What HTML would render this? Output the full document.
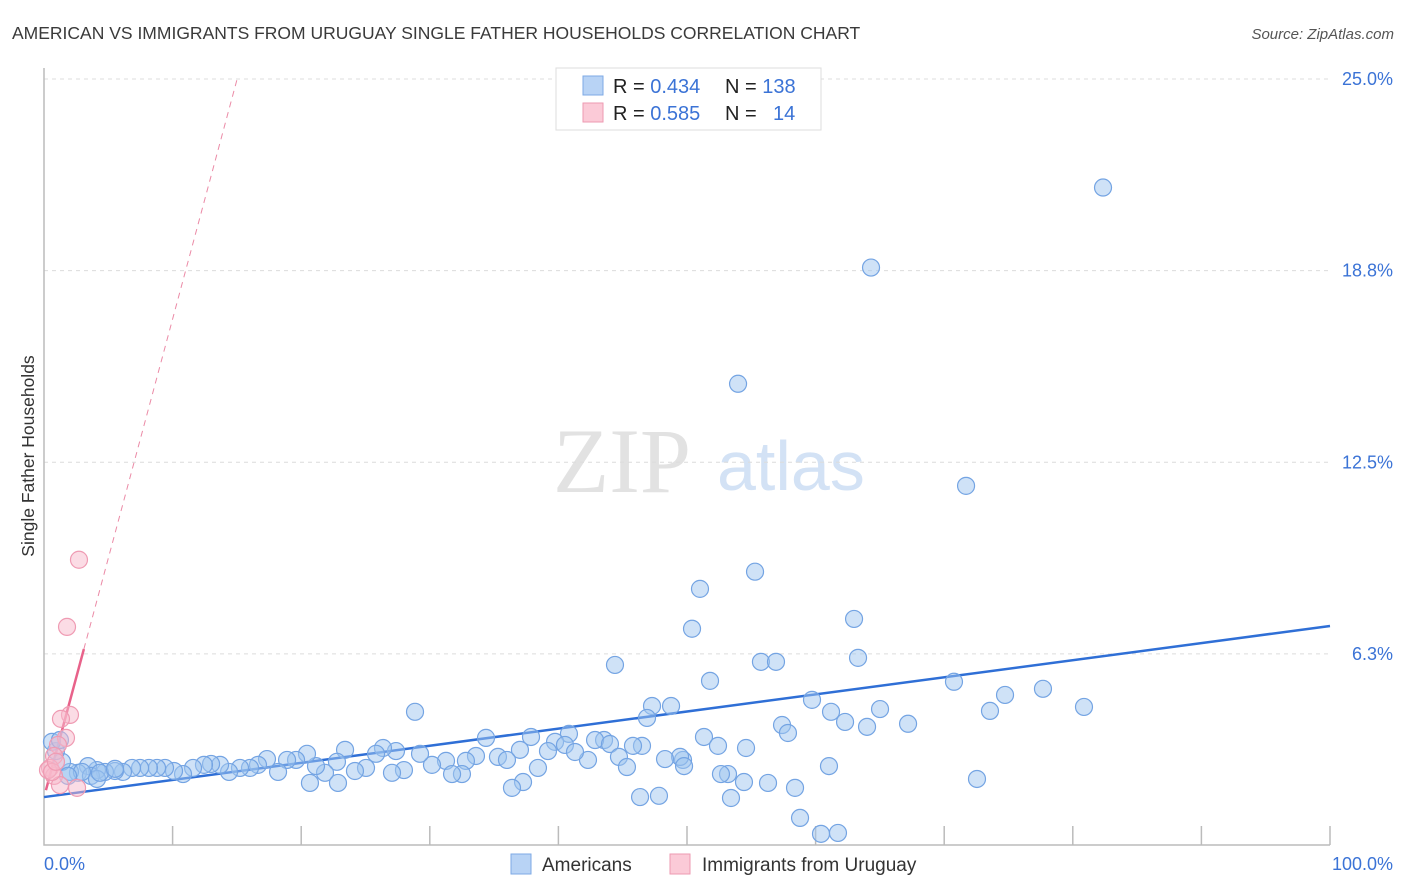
<!DOCTYPE html>
<html><head><meta charset="utf-8"><style>
body{margin:0;background:#fff;font-family:"Liberation Sans",sans-serif;}
svg{display:block}
</style></head><body>
<svg width="1406" height="892" viewBox="0 0 1406 892">
<text x="12" y="39" font-size="17.5" fill="#3a3a3a">AMERICAN VS IMMIGRANTS FROM URUGUAY SINGLE FATHER HOUSEHOLDS CORRELATION CHART</text>
<text x="1394" y="39" font-size="15" font-style="italic" fill="#555" text-anchor="end">Source: ZipAtlas.com</text>
<text transform="translate(34,456) rotate(-90)" font-size="17.5" fill="#333" text-anchor="middle">Single Father Households</text>
<g>
<text x="553" y="492" font-family="Liberation Serif,serif" font-size="92" fill="#e2e2e2">ZIP</text>
<text x="717" y="490" font-size="70" fill="#d3e2f5">atlas</text>
</g>
<g id="grid"></g>
<g id="axes"></g>
<g id="lines"></g>
<g id="pts"></g>
<g>
<rect x="556" y="68" width="265" height="62" fill="#fff" stroke="#ddd"/>
<rect x="583" y="76" width="20" height="19" fill="#b8d3f5" stroke="#7ea9e5"/>
<rect x="583" y="103" width="20" height="19" fill="#fbcad7" stroke="#ee9ab2"/>
<text x="613" y="93" font-size="20" fill="#222">R = <tspan fill="#3b73d6">0.434</tspan><tspan x="725">N = </tspan><tspan fill="#3b73d6">138</tspan></text>
<text x="613" y="120" font-size="20" fill="#222">R = <tspan fill="#3b73d6">0.585</tspan><tspan x="725">N = </tspan><tspan x="773" fill="#3b73d6">14</tspan></text>
</g>
<g>
<rect x="511" y="854" width="20" height="20" fill="#b8d3f5" stroke="#7ea9e5"/>
<text x="542" y="871" font-size="19" fill="#333">Americans</text>
<rect x="670" y="854" width="20" height="20" fill="#fbcad7" stroke="#ee9ab2"/>
<text x="702" y="871" font-size="19" fill="#333">Immigrants from Uruguay</text>
</g>
</svg>
<script>
const yTicks=[6.25,12.5,18.75,25];
const yTickLabels=["6.3%","12.5%","18.8%","25.0%"];
const xTickLabels=["0.0%","100.0%"];
const bluePx=[[1103,188],[871,268],[738,384],[966,486],[755,572],[700,589],[854,619],[692,629],[615,665],[761,662],[776,662],[858,658],[710,681],[954,682],[1043,689],[1005,695],[1084,707],[990,711],[652,706],[671,706],[415,712],[647,718],[812,700],[831,712],[845,722],[880,709],[867,727],[908,724],[782,725],[788,733],[704,737],[718,746],[746,748],[486,738],[531,737],[569,734],[604,740],[595,740],[555,742],[565,745],[610,744],[642,746],[633,746],[619,757],[588,760],[575,752],[548,751],[520,750],[498,757],[507,760],[476,756],[466,761],[462,774],[446,761],[432,765],[420,754],[396,751],[383,748],[376,754],[366,768],[355,771],[345,750],[337,762],[325,773],[316,766],[307,754],[296,760],[287,760],[278,772],[267,759],[258,765],[250,768],[240,768],[229,772],[220,765],[211,764],[204,765],[193,768],[183,774],[174,771],[165,768],[157,768],[149,768],[140,768],[132,768],[123,772],[115,771],[105,772],[97,770],[88,766],[78,773],[70,772],[62,762],[56,751],[52,742],[60,740],[728,774],[744,782],[768,783],[721,774],[683,760],[680,757],[665,759],[627,767],[538,768],[523,782],[512,788],[452,774],[404,770],[392,773],[310,783],[338,783],[659,796],[731,798],[795,788],[829,766],[977,779],[800,818],[821,834],[838,833],[640,797],[684,766],[91,776],[82,772],[97,779],[68,776],[100,773],[115,769]];
const pinkPx=[[79,560],[67,627],[70,715],[61,719],[66,738],[58,745],[54,756],[50,768],[54,776],[48,770],[60,785],[77,788],[52,772],[56,762]];
// convert read pixel positions into data values (x %, y %)
const blueX=bluePx.map(p=>+((p[0]-44)/12.86).toFixed(2));
const blueY=bluePx.map(p=>+((845.5-p[1])/30.64).toFixed(2));
const pinkX=pinkPx.map(p=>+((p[0]-44)/12.86).toFixed(2));
const pinkY=pinkPx.map(p=>+((845.5-p[1])/30.64).toFixed(2));
const blueTrend=[1.58,7.16];
const pinkTrend=[1.57,1.56]; // intercept, slope
const NS="http://www.w3.org/2000/svg";
const X0=44,X1=1330,YB=845.5,YT=79;
const sx=v=>X0+(X1-X0)*v/100;
const sy=v=>YB-(YB-YT)*v/25;
function mk(tag,attrs,parent){const e=document.createElementNS(NS,tag);for(const k in attrs)e.setAttribute(k,attrs[k]);parent.appendChild(e);return e;}
const grid=document.getElementById('grid'),axes=document.getElementById('axes'),lines=document.getElementById('lines'),pts=document.getElementById('pts');
yTicks.forEach((t,i)=>{
 const l=mk('line',{x1:X0,x2:X1,y1:sy(t),y2:sy(t),stroke:'#dcdcdc','stroke-dasharray':'4,4'},grid);
 
 
 const tx=mk('text',{x:1393,y:sy(t)+6,'font-size':18,fill:'#3b73d6','text-anchor':'end'},axes);
 tx.textContent=yTickLabels[i];
 
 
});
const ax=mk('path',{d:`M${X0} 68V845H${X1}`,stroke:'#bbb',fill:'none','stroke-width':1.5},axes);


for(let i=1;i<=10;i++){const x=sx(i*10);const t=mk('line',{x1:x,x2:x,y1:826,y2:845,stroke:'#bbb','stroke-width':1.5},axes);
 
 }
const xl0=mk('text',{x:44,y:870,'font-size':18,fill:'#3b73d6'},axes);xl0.textContent=xTickLabels[0];


const xl1=mk('text',{x:1393,y:870,'font-size':18,fill:'#3b73d6','text-anchor':'end'},axes);xl1.textContent=xTickLabels[1];


blueX.forEach((x,i)=>{const c=mk('circle',{cx:sx(x),cy:sy(blueY[i]),r:8.5,fill:'rgba(160,197,240,0.5)',stroke:'#74a4e3','stroke-width':1.2},pts);
 
 });
pinkX.forEach((x,i)=>{const c=mk('circle',{cx:sx(x),cy:sy(pinkY[i]),r:8.5,fill:'rgba(248,185,203,0.5)',stroke:'#ef9bb3','stroke-width':1.2},pts);
 
 });
const bl=mk('line',{x1:sx(0),y1:sy(blueTrend[0]),x2:sx(100),y2:sy(blueTrend[1]),stroke:'#2f6fd6','stroke-width':2.5},lines);


const pf=x=>pinkTrend[0]+pinkTrend[1]*x;
const xEnd=(25-pinkTrend[0])/pinkTrend[1];
const pd=mk('line',{x1:sx(3.1),y1:sy(pf(3.1)),x2:sx(xEnd),y2:sy(25),stroke:'#eb8aa6','stroke-width':1,'stroke-dasharray':'6,5'},lines);


const ps=mk('line',{x1:sx(0.15),y1:sy(pf(0.15)),x2:sx(3.1),y2:sy(pf(3.1)),stroke:'#e8628a','stroke-width':2.5},lines);


</script>
</body></html>
